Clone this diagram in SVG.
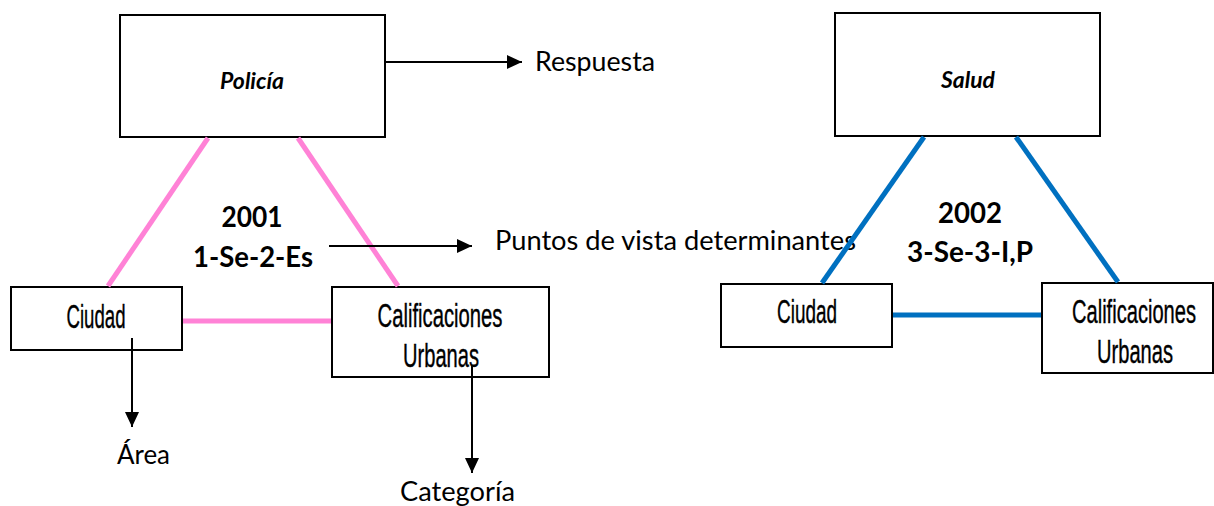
<svg xmlns="http://www.w3.org/2000/svg" width="1214" height="506" viewBox="0 0 1214 506">
  <style>
    .box { fill: #ffffff; stroke: #000000; stroke-width: 2; }
    .title { font-family: Lato, "Open Sans", sans-serif; font-weight: bold; font-style: italic; font-size: 22px; fill: #000; text-anchor: middle; }
    .code { font-family: Lato, "Open Sans", sans-serif; font-weight: bold; font-size: 28px; fill: #000; text-anchor: middle; }
    .label { font-family: Lato, "Open Sans", sans-serif; font-size: 26px; fill: #000; }
    .narrow { font-family: "Liberation Sans", Arial, sans-serif; font-size: 33px; fill: #000; stroke: #000; stroke-width: 0.4; text-anchor: middle; }
    .pink { stroke: #ff82d6; stroke-width: 5; fill: none; }
    .blue { stroke: #0070c0; stroke-width: 5; fill: none; }
    .arrow { stroke: #000; stroke-width: 2; fill: none; marker-end: url(#head); }
  </style>
  <defs>
    <marker id="head" markerUnits="userSpaceOnUse" markerWidth="16" markerHeight="16" viewBox="0 0 16 16" refX="15" refY="8" orient="auto">
      <path d="M0,1 L15,8 L0,15 Z" fill="#000"/>
    </marker>
  </defs>

  <g id="labels">
    <text class="code" x="252" y="227" textLength="61" lengthAdjust="spacingAndGlyphs">2001</text>
    <text class="code" x="253" y="267" textLength="120" lengthAdjust="spacingAndGlyphs">1-Se-2-Es</text>
    <text class="code" x="970" y="223" textLength="64" lengthAdjust="spacingAndGlyphs">2002</text>
    <text class="code" x="970" y="262" textLength="126" lengthAdjust="spacingAndGlyphs">3-Se-3-I,P</text>
    <text class="label" x="535" y="71" textLength="120" lengthAdjust="spacingAndGlyphs">Respuesta</text>
    <text class="label" x="495" y="250" textLength="361" lengthAdjust="spacingAndGlyphs">Puntos de vista determinantes</text>
    <text class="label" x="117" y="464" textLength="53" lengthAdjust="spacingAndGlyphs">Área</text>
    <text class="label" x="400" y="501" textLength="115" lengthAdjust="spacingAndGlyphs">Categoría</text>
  </g>

  <g id="node-policia">
    <rect class="box" x="120" y="15" width="265" height="122"/>
    <text class="title" x="252" y="89" textLength="64" lengthAdjust="spacingAndGlyphs">Policía</text>
  </g>
  <g id="node-ciudad1">
    <rect class="box" x="11" y="287" width="171" height="63"/>
    <text class="narrow" x="96" y="328" textLength="59" lengthAdjust="spacingAndGlyphs">Ciudad</text>
  </g>
  <g id="node-calif1">
    <rect class="box" x="332" y="287" width="217" height="90"/>
    <text class="narrow" x="440" y="327" textLength="125" lengthAdjust="spacingAndGlyphs">Calificaciones</text>
    <text class="narrow" x="441" y="367" textLength="76" lengthAdjust="spacingAndGlyphs">Urbanas</text>
  </g>
  <g id="node-salud">
    <rect class="box" x="835" y="13" width="265" height="123"/>
    <text class="title" x="968" y="88" textLength="54" lengthAdjust="spacingAndGlyphs">Salud</text>
  </g>
  <g id="node-ciudad2">
    <rect class="box" x="721" y="284" width="171" height="63"/>
    <text class="narrow" x="807" y="323" textLength="60" lengthAdjust="spacingAndGlyphs">Ciudad</text>
  </g>
  <g id="node-calif2">
    <rect class="box" x="1042" y="283" width="171" height="90"/>
    <text class="narrow" x="1134" y="323" textLength="124" lengthAdjust="spacingAndGlyphs">Calificaciones</text>
    <text class="narrow" x="1135" y="363" textLength="76" lengthAdjust="spacingAndGlyphs">Urbanas</text>
  </g>

  <g id="connectors">
    <line class="pink" x1="208" y1="138" x2="108" y2="286"/>
    <line class="pink" x1="298" y1="138" x2="398" y2="286"/>
    <line class="pink" x1="183" y1="321" x2="331" y2="321"/>
    <line class="blue" x1="924" y1="137" x2="822" y2="283"/>
    <line class="blue" x1="1016" y1="137" x2="1118" y2="282"/>
    <line class="blue" x1="893" y1="315" x2="1041" y2="315"/>
    <line class="arrow" x1="386" y1="62" x2="522" y2="62"/>
    <line class="arrow" x1="329" y1="246" x2="472" y2="246"/>
    <line class="arrow" x1="132" y1="338" x2="132" y2="427"/>
    <line class="arrow" x1="472" y1="365" x2="472" y2="473"/>
  </g>
</svg>
